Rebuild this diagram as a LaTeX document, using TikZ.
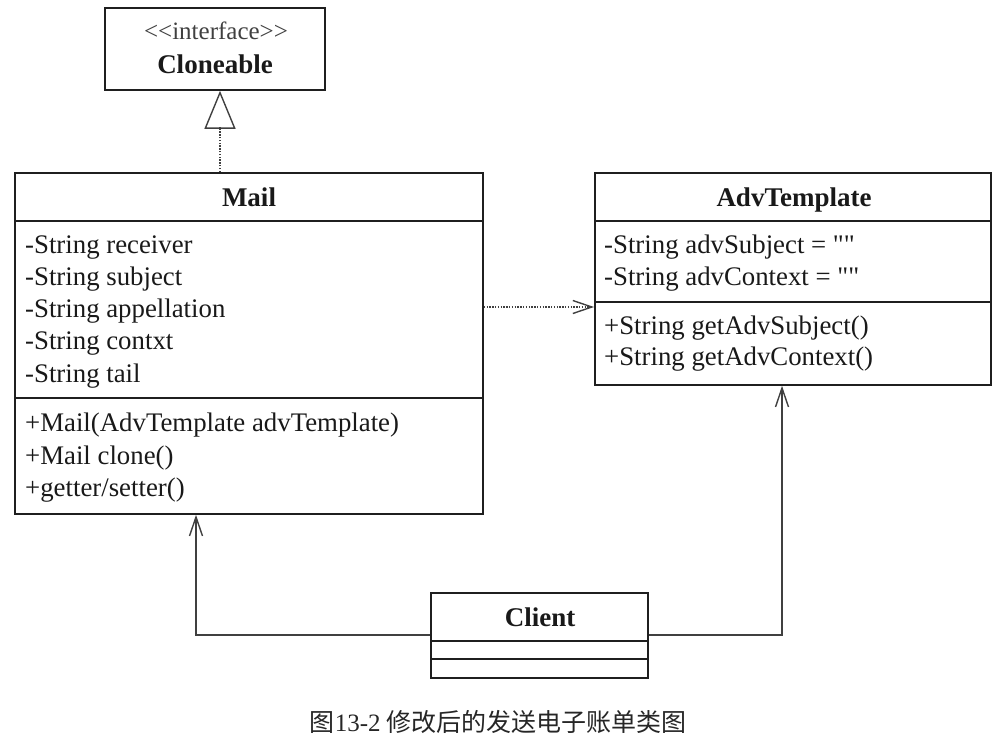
\documentclass[tikz,border=0pt]{standalone}
\usepackage{fontspec}
\setmainfont{Liberation Serif}[Ligatures=TeXOff]
\newfontfamily\cjk{Noto Sans CJK SC}
\usetikzlibrary{arrows.meta}
\begin{document}
\begin{tikzpicture}[x=1pt,y=-1pt,
  cls/.style={draw=black!88, line width=1.8pt, inner sep=0pt, anchor=north west},
  sep/.style={draw=black!88, line width=1.8pt},
  txt/.style={inner sep=0pt, anchor=base west, font=\fontsize{26.8}{30}\selectfont, text=black!90},
  hdr/.style={inner sep=0pt, anchor=base, font=\fontsize{27}{30}\selectfont\bfseries, text=black!90},
  conn/.style={draw=black!75, line width=1.4pt},
  dot/.style={conn, dash pattern=on 1.4pt off 1.4pt},
  vtip/.style={-{Straight Barb[length=19pt,width=13pt,line width=1.4pt]}},
]
\useasboundingbox (0,0) rectangle (1004,747);

% Cloneable
\node[cls, minimum width=220pt, minimum height=82pt] (cloneable) at (104,7) {};
\node[inner sep=0pt, anchor=base, font=\fontsize{25}{28}\selectfont, text=black!75] (cl1) at (216,39) {<<interface>>};
\node[hdr] (cl2) at (215,73) {Cloneable};

% Mail
\node[cls, minimum width=468pt, minimum height=341pt] (mail) at (14,172) {};
\draw[sep] (14,221) -- (482,221);
\draw[sep] (14,398) -- (482,398);
\node[hdr] (mailh) at (249,206) {Mail};
\node[txt] (m1) at (25,253) {-String receiver};
\node[txt] (m2) at (25,285) {-String subject};
\node[txt] (m3) at (25,317) {-String appellation};
\node[txt] (m4) at (25,349) {-String contxt};
\node[txt] (m5) at (25,382) {-String tail};
\node[txt] (m6) at (25,431) {+Mail(AdvTemplate advTemplate)};
\node[txt] (m7) at (25,464) {+Mail clone()};
\node[txt] (m8) at (25,496) {+getter/setter()};

% AdvTemplate
\node[cls, minimum width=396pt, minimum height=212pt] (adv) at (594,172) {};
\draw[sep] (594,221) -- (990,221);
\draw[sep] (594,302) -- (990,302);
\node[hdr] (advh) at (794,206) {AdvTemplate};
\node[txt] (a1) at (604,253) {-String advSubject = ""};
\node[txt] (a2) at (604,285) {-String advContext = ""};
\node[txt] (a3) at (604,334) {+String getAdvSubject()};
\node[txt] (a4) at (604,365) {+String getAdvContext()};

% Client
\node[cls, minimum width=217pt, minimum height=85pt] (client) at (430,592) {};
\draw[sep] (430,641) -- (647,641);
\draw[sep] (430,659) -- (647,659);
\node[hdr] (clienth) at (540,626) {Client};

% connectors
\coordinate (inh) at (220,0);
\coordinate (dep) at (0,307);
\coordinate (cl) at (0,635);
\coordinate (lx) at (196,0);
\coordinate (rx) at (782,0);

\draw[dot] (inh |- mail.north) -- (220,127);
\draw[conn, -{Triangle[open,length=38pt,width=31pt,line width=1.4pt]}] (220,127.5) -- (inh |- cloneable.south);
\draw[dot, vtip] (dep -| mail.east) -- (dep -| adv.west);
\draw[conn, vtip] (cl -| client.west) -- (cl -| lx) -- (lx |- mail.south);
\draw[conn, vtip] (cl -| client.east) -- (cl -| rx) -- (rx |- adv.south);

% caption
\node[inner sep=0pt, font=\fontsize{25}{28}\selectfont, text=black!85] (cap) at (498,722) {\cjk 图{\rmfamily 13-2} 修改后的发送电子账单类图};
\end{tikzpicture}
\end{document}
